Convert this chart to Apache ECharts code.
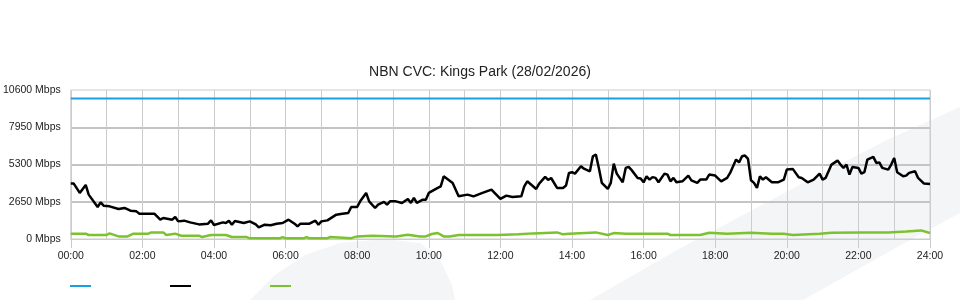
<!DOCTYPE html>
<html>
<head>
<meta charset="utf-8">
<script src="https://cdn.jsdelivr.net/npm/echarts@6/dist/echarts.min.js"></script>
<style>html,body{margin:0;padding:0;background:#fff}#c{width:960px;height:300px}</style>
</head>
<body>
<div id="c"></div>
<script>
// ---- data (minutes from midnight, Mbps) ----
const titleText = 'NBN CVC: Kings Park (28/02/2026)';
const xTickLabels = ['00:00','02:00','04:00','06:00','08:00','10:00','12:00','14:00','16:00','18:00','20:00','22:00','24:00'];
const yTickLabels = ['0 Mbps','2650 Mbps','5300 Mbps','7950 Mbps','10600 Mbps'];
const seriesNames = ['Capacity','Download','Upload'];

const capacityTimes = [0, 1440];
const capacityValues = [10000, 10000];

const downloadTimes = [0,5,15,25,30,45,50,55,65,80,90,100,110,115,130,140,150,155,170,175,180,190,200,215,230,235,240,255,260,265,270,275,290,300,310,315,325,335,345,355,365,375,380,385,400,410,415,420,430,445,455,465,470,480,485,495,500,510,515,525,530,535,545,555,565,570,575,580,590,595,600,615,620,625,640,650,665,675,690,705,720,730,740,755,760,765,780,785,795,800,805,815,825,830,835,840,845,855,860,870,875,880,885,890,900,905,910,915,925,930,935,940,950,955,960,965,970,975,980,985,995,1000,1005,1010,1015,1025,1035,1040,1050,1055,1065,1070,1080,1090,1100,1105,1115,1120,1125,1130,1135,1140,1145,1150,1155,1160,1165,1175,1185,1195,1200,1210,1220,1225,1235,1245,1255,1260,1265,1275,1285,1290,1295,1300,1305,1310,1320,1325,1330,1335,1345,1350,1355,1360,1370,1375,1380,1385,1395,1400,1405,1415,1420,1430,1440];
const downloadValues = [3940,3940,3277,3847,3156,2280,2607,2372,2322,2137,2208,2016,1966,1802,1802,1802,1375,1496,1375,1567,1254,1304,1183,1040,1090,1325,997,1183,1140,1304,1019,1282,1140,1254,1040,826,1019,980,1090,1140,1375,1090,898,1090,1090,1304,1019,1254,1325,1731,1802,1852,2280,2280,2679,3277,2679,2208,2444,2636,2444,2679,2679,2565,2850,2565,2921,2565,2800,2800,3277,3633,3747,4460,3989,3035,3156,3035,3277,3512,2850,3085,2990,3035,3747,4103,3562,3940,4417,4200,4340,3633,3633,3800,4702,4750,4650,5172,5000,4816,5884,6006,5058,3989,3562,3989,5364,4652,4032,5058,5129,4900,4346,4300,4032,4460,4225,4400,4346,4032,4652,4580,4103,4346,4032,4103,4510,4175,3989,4225,4225,4581,4510,4103,4346,4702,5649,5450,5884,5934,5699,4175,3989,3633,4460,4225,4390,4032,4032,4225,4937,4987,4388,4346,4032,4225,4652,4225,4346,5293,5578,5293,5058,5293,4581,5129,5058,4652,4750,5649,5842,5414,5450,5058,4937,5293,5770,4744,4460,4510,4702,4816,4346,3940,3918];

const uploadTimes = [0,25,30,60,65,80,95,105,130,135,155,160,175,185,215,220,235,260,270,295,300,350,355,360,390,395,400,420,430,435,470,480,505,545,565,585,595,605,615,625,635,650,715,750,775,815,825,835,880,900,910,930,1000,1005,1055,1070,1100,1140,1175,1195,1210,1255,1275,1325,1345,1370,1400,1425,1440];
const uploadValues = [380,380,285,285,400,185,185,380,380,470,470,285,380,235,235,140,285,285,140,140,45,45,140,45,45,140,45,45,60,140,60,185,235,185,306,185,185,356,427,185,185,285,285,330,400,470,330,380,470,285,420,378,378,285,285,449,378,449,380,380,285,380,449,470,470,470,541,612,427];

const pair = (t, v) => t.map((x, i) => [x, v[i]]);

const chart = echarts.init(document.getElementById('c'), null, {renderer: 'canvas'});
const FONT = '"Liberation Sans", Arial, sans-serif';
const wm = '#f4f5f7';
chart.setOption({
  backgroundColor: '#ffffff',
  animation: false,
  textStyle: {fontFamily: FONT},
  title: {
    text: titleText, left: 'center', top: 60,
    textStyle: {fontFamily: FONT, fontSize: 14, fontWeight: 'normal', color: '#222'}
  },
  graphic: [
    {type: 'polygon', z: -10, silent: true, shape: {points: [[250,300],[275,275],[305,255],[340,243],[385,239],[420,243],[440,260],[452,285],[455,300]]}, style: {fill: wm}},
    {type: 'polygon', z: -10, silent: true, shape: {points: [[590,300],[677,250],[790,190],[887,140],[960,107],[960,213],[910,240],[803,300]]}, style: {fill: wm}}
  ],
  legend: {
    left: 65, top: 280, itemWidth: 21, itemHeight: 2, itemGap: 79, icon: 'rect',
    formatter: () => '', selectedMode: false,
    data: seriesNames
  },
  grid: {left: 70, right: 30, top: 90, bottom: 61, show: true, borderColor: '#cccccc', borderWidth: 1, backgroundColor: 'transparent'},
  xAxis: {
    type: 'value', min: 0, max: 1440, interval: 120,
    axisLine: {show: true, lineStyle: {color: '#cccccc'}},
    axisTick: {show: true, length: 9, lineStyle: {color: '#cccccc'}},
    axisLabel: {margin: 12, fontSize: 10.5, color: '#222', fontFamily: FONT,
      formatter: v => xTickLabels[Math.round(v / 120)]},
    splitLine: {show: true, lineStyle: {color: '#cccccc', width: 1}},
    minorTick: {show: false, splitNumber: 2},
    minorSplitLine: {show: true, lineStyle: {color: '#cccccc', width: 1}}
  },
  yAxis: {
    type: 'value', min: 0, max: 10600, interval: 2650,
    axisLine: {show: false}, axisTick: {show: false},
    axisLabel: {margin: 10, fontSize: 10.5, color: '#222', fontFamily: FONT,
      formatter: v => yTickLabels[Math.round(v / 2650)]},
    splitLine: {show: true, lineStyle: {color: ['transparent','#c4c4c4','#c4c4c4','#c4c4c4','transparent'], width: 2}}
  },
  series: [
    {name: seriesNames[0], type: 'line', data: pair(capacityTimes, capacityValues), showSymbol: false, lineStyle: {color: '#1a9fe3', width: 2}, itemStyle: {color: '#1a9fe3'}},
    {name: seriesNames[1], type: 'line', data: pair(downloadTimes, downloadValues), showSymbol: false, lineStyle: {color: '#000000', width: 2.5}, itemStyle: {color: '#000000'}},
    {name: seriesNames[2], type: 'line', data: pair(uploadTimes, uploadValues), showSymbol: false, lineStyle: {color: '#7cc22e', width: 2.5}, itemStyle: {color: '#7cc22e'}}
  ]
});
</script>
</body>
</html>
